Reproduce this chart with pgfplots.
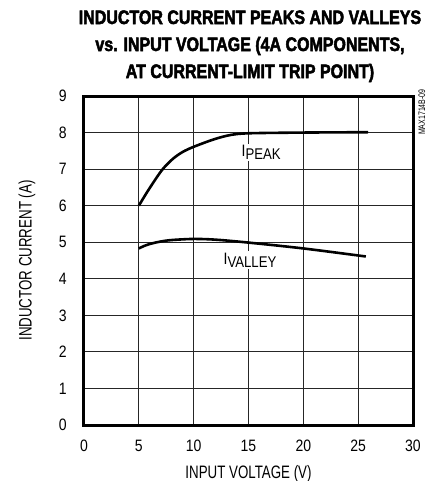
\documentclass[border=0pt]{standalone}
\usepackage{fontspec}
\usepackage{pgfplots}
\pgfplotsset{compat=1.18}
\setmainfont{Liberation Sans}
\newfontfamily\tickfont[FakeStretch=0.85]{Liberation Sans}
\newfontfamily\labfont[FakeStretch=0.74]{Liberation Sans}
\newfontfamily\titlefont[FakeStretch=0.82,FakeBold=2.5]{Liberation Sans Bold}
\begin{document}
\begin{tikzpicture}
\path[use as bounding box] (-84bp,-56bp) rectangle (348bp,425bp);
\begin{axis}[
  scale only axis, width=329bp, height=329bp,
  xmin=0, xmax=30, ymin=0, ymax=9,
  xtick={0,5,...,30}, ytick={0,1,...,9},
  grid=major, grid style={black!85, line width=0.8bp},
  axis line style={line width=3bp},
  major tick length=0pt,
  /pgf/number format/assume math mode=true,
  tick label style={font=\tickfont\fontsize{16.5bp}{16bp}\selectfont, inner sep=0pt},
  yticklabel style={anchor=east, xshift=-17bp},
  xticklabel style={anchor=north, yshift=-15bp},
  clip=false,
]
\addplot[black, line width=2.6bp, smooth] coordinates {
 (5,6.0) (5.9,6.44) (7.1,6.97) (8.1,7.28) (9,7.47) (10,7.61) (11.8,7.81) (13.3,7.93) (15,7.98) (20,8.0) (25.9,8.01)
};
\addplot[black, line width=2.6bp, smooth] coordinates {
 (5,4.83) (5.5,4.9) (6.1,4.96) (7,5.02) (8,5.06) (10,5.09) (12,5.07) (15,4.99) (20,4.83) (25.7,4.61)
};
\node[anchor=base west, fill=white, inner sep=1.5bp, font=\tickfont\fontsize{16.5bp}{16bp}\selectfont] at (axis cs:14.22,7.34) {I\raisebox{-3.2bp}{\fontsize{15.5bp}{15bp}\selectfont PEAK}};
\node[anchor=base west, fill=white, inner sep=1.5bp, font=\tickfont\fontsize{16.5bp}{16bp}\selectfont] at (axis cs:12.58,4.40) {I\raisebox{-3.2bp}{\fontsize{15.5bp}{15bp}\selectfont VALLEY}};
\node[anchor=base, font=\labfont\fontsize{18bp}{18bp}\selectfont] at ([yshift=-53bp]axis description cs:0.5,0) {INPUT VOLTAGE (V)};
\node[rotate=90, anchor=center, font=\labfont\fontsize{18bp}{18bp}\selectfont] at ([xshift=-57bp]axis description cs:0,0.5) {INDUCTOR CURRENT (A)};
\node[rotate=90, anchor=center, font=\labfont\fontsize{9.5bp}{9bp}\selectfont] at (axis description cs:1.027,0.951) {MAX1714B-09};
\node[anchor=base, font=\titlefont\fontsize{19.5bp}{19.5bp}\selectfont] at ([xshift=1.5bp,yshift=72bp]axis description cs:0.5,1) {INDUCTOR CURRENT PEAKS AND VALLEYS};
\node[anchor=base, font=\titlefont\fontsize{19.5bp}{19.5bp}\selectfont] at ([xshift=1.5bp,yshift=45bp]axis description cs:0.5,1) {vs. INPUT VOLTAGE (4A COMPONENTS,};
\node[anchor=base, font=\titlefont\fontsize{19.5bp}{19.5bp}\selectfont] at ([xshift=1.5bp,yshift=18bp]axis description cs:0.5,1) {AT CURRENT-LIMIT TRIP POINT)};
\end{axis}
\end{tikzpicture}
\end{document}
